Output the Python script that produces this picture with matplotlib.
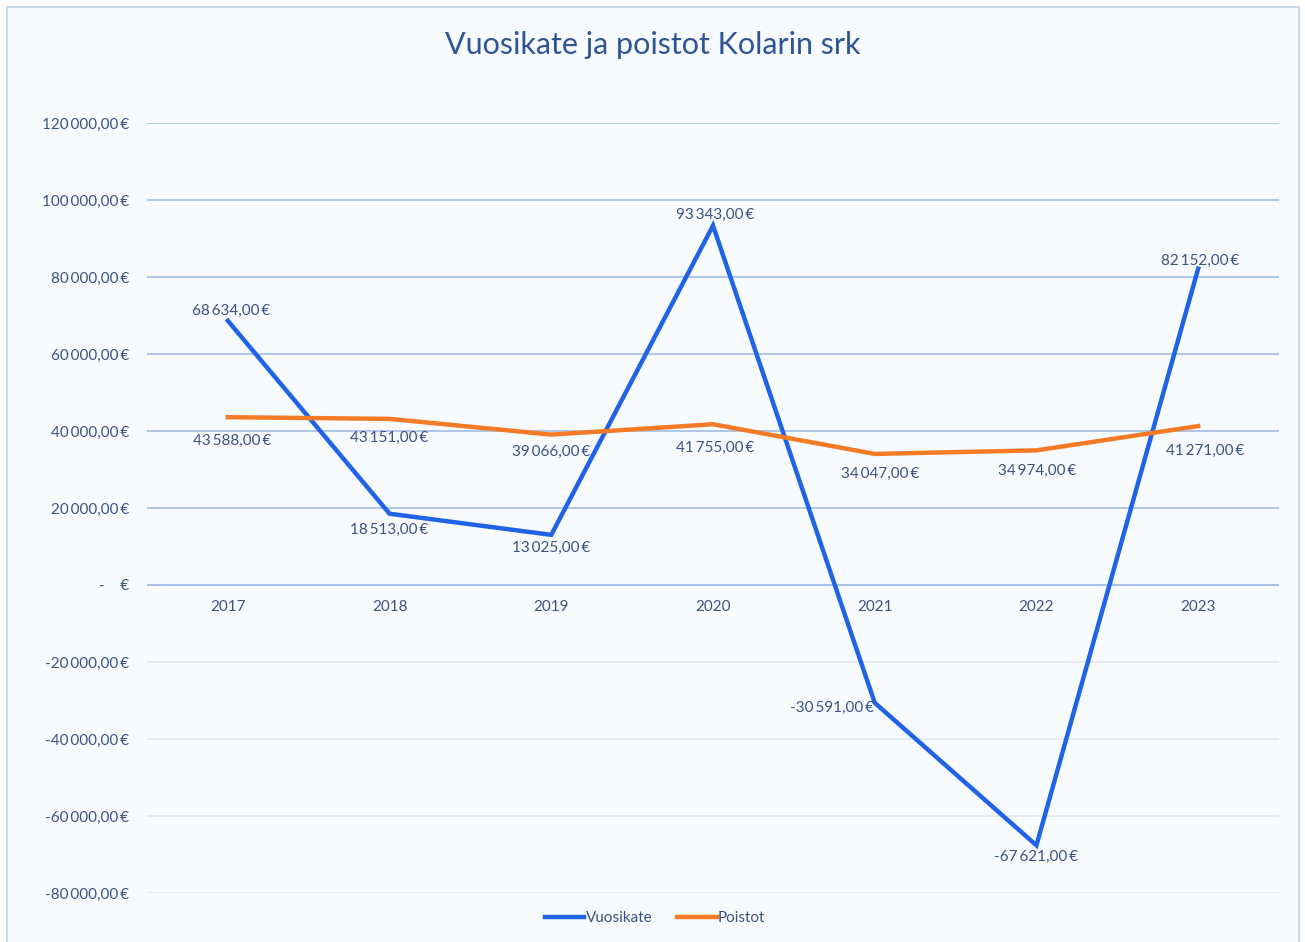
import matplotlib
matplotlib.use('Agg')
import matplotlib.pyplot as plt
from matplotlib.patches import Rectangle

years = ['2017', '2018', '2019', '2020', '2021', '2022', '2023']
vuosikate = [68634, 18513, 13025, 93343, -30591, -67621, 82152]
poistot = [43588, 43151, 39066, 41755, 34047, 34974, 41271]
yticks = [-80000, -60000, -40000, -20000, 0, 20000, 40000, 60000, 80000, 100000, 120000]

# label offsets in pixels (dx, dy, ha)
v_off = [(3, 10, 'center'), (0, -16, 'center'), (0, -13, 'center'), (2, 11, 'center'),
         (-1, -5, 'right'), (0, -12, 'center'), (2, 8, 'center')]
p_off = [(4, -24, 'center'), (0, -19, 'center'), (0, -17, 'center'), (2, -24, 'center'),
         (5, -20, 'center'), (1, -21, 'center'), (7, -25, 'center')]

BLUE = '#2163E6'
ORANGE = '#F47B26'
TXT = '#3B5284'
BG = '#F7FBFD'

plt.rcParams['font.family'] = ['Lato', 'DejaVu Sans']


def eur(v):
	if v == 0:
		return '-    €'
	s = f'{abs(v):,.2f}'.replace(',', '\u2009').replace('.', ',')
	return ('-' if v < 0 else '') + s + '\u2009€'


def main():
	fig = plt.figure(figsize=(13.05, 9.42), dpi=100, facecolor='white')
	fig.patches.append(Rectangle((7 / 1305, -0.01), 1292 / 1305, 1 - 7 / 942 + 0.01,
	                             transform=fig.transFigure, facecolor=BG,
	                             edgecolor='#C6DAF2', linewidth=1.5, zorder=-10))
	ax = fig.add_axes([147 / 1305, 1 - 893 / 942, 1132 / 1305, 770 / 942])
	ax.set_facecolor('none')
	x = list(range(len(years)))
	ax.set_xlim(-0.5, len(years) - 0.5)
	ax.set_ylim(-80000, 120000)

	for t in yticks:
		if t > 0:
			c = '#A8C3E8'
		elif t == 0:
			c = '#9EBBE6'
		else:
			c = '#E2EAF5'
		ax.axhline(t, color=c, linewidth=1.3, zorder=1)

	ax.plot(x, vuosikate, color=BLUE, linewidth=3.2, label='Vuosikate', zorder=3,
	        solid_joinstyle='miter')
	ax.plot(x, poistot, color=ORANGE, linewidth=3.2, label='Poistot', zorder=3)

	for i, v in enumerate(vuosikate):
		dx, dy, ha = v_off[i]
		ax.annotate(eur(v), (i, v), xytext=(dx, dy), textcoords='offset pixels',
		            ha=ha, va='center', fontsize=11, color=TXT, zorder=4)
	for i, v in enumerate(poistot):
		dx, dy, ha = p_off[i]
		ax.annotate(eur(v), (i, v), xytext=(dx, dy), textcoords='offset pixels',
		            ha=ha, va='center', fontsize=11, color=TXT, zorder=4)

	for i, y in enumerate(years):
		ax.annotate(y, (i, 0), xytext=(0, -22), textcoords='offset pixels',
		            ha='center', va='center', fontsize=11, color=TXT)

	ax.set_yticks(yticks)
	ax.set_yticklabels([eur(t) for t in yticks])
	ax.set_xticks([])
	ax.tick_params(axis='y', length=0, pad=13, labelsize=11, labelcolor=TXT)
	for s in ax.spines.values():
		s.set_visible(False)

	fig.text(653 / 1305, 1 - 45 / 942, 'Vuosikate ja poistot Kolarin srk', ha='center',
	         va='center', fontsize=22, color='#2F5597')

	fig.legend(loc='center', bbox_to_anchor=(655 / 1305, 1 - 918 / 942), ncol=2,
	           frameon=False, fontsize=11, labelcolor=TXT, handlelength=2.6,
	           handletextpad=0.1, columnspacing=1.6)

	fig.savefig('out.png', dpi=100, facecolor='white')


if __name__ == '__main__':
	main()
